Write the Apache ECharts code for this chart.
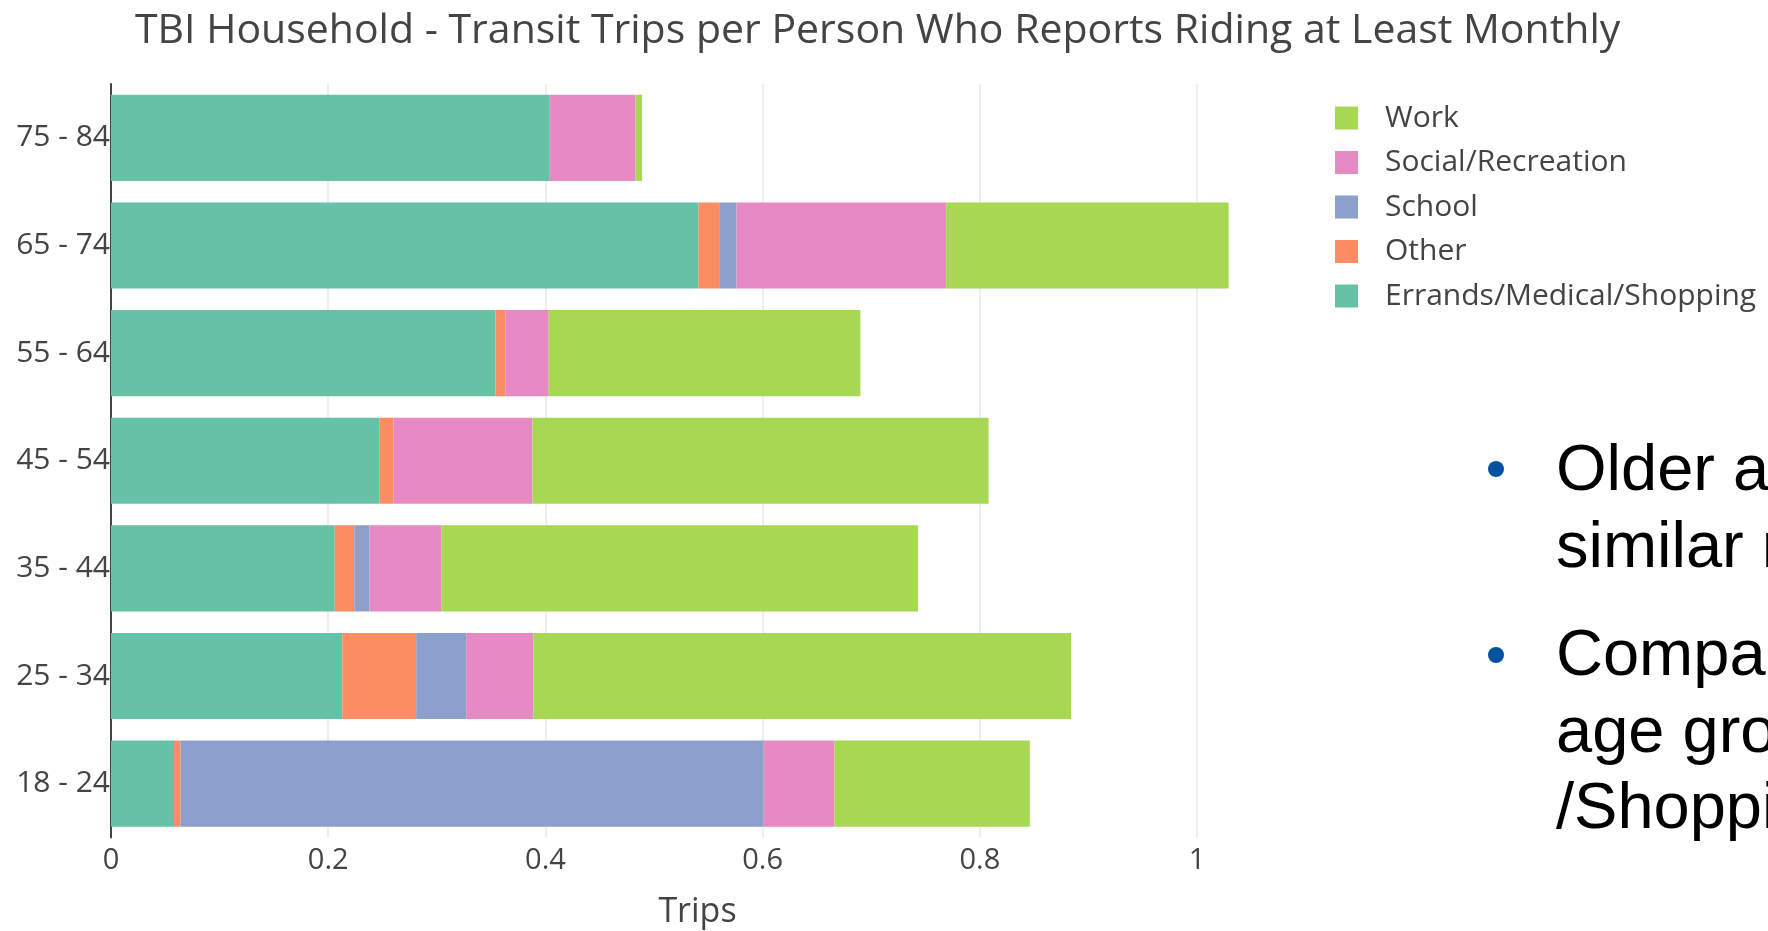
<!DOCTYPE html>
<html>
<head>
<meta charset="utf-8">
<title>TBI Household - Transit Trips</title>
<script src="https://cdn.jsdelivr.net/npm/echarts@6/dist/echarts.min.js"></script>
<style>
  html, body { margin: 0; padding: 0; background: #fff; }
  #chart { width: 1768px; height: 931px; }
</style>
</head>
<body>
<div id="chart"></div>
<script>
// age groups, bottom to top
const ageGroups = ['18 - 24', '25 - 34', '35 - 44', '45 - 54', '55 - 64', '65 - 74', '75 - 84']

// trips per person
const errands = [0.058, 0.213, 0.206, 0.247, 0.354, 0.541, 0.404]
const other = [0.006, 0.068, 0.018, 0.013, 0.009, 0.019, 0]
const school = [0.537, 0.046, 0.014, 0, 0, 0.016, 0]
const social = [0.065, 0.062, 0.066, 0.128, 0.040, 0.193, 0.079]
const work = [0.180, 0.495, 0.439, 0.420, 0.287, 0.260, 0.006]

const xTicks = [0, 0.2, 0.4, 0.6, 0.8, 1]

const mychart = echarts.init(document.getElementById('chart'))

function barSeries (name, color, data) {
  return {
    name: name,
    type: 'bar',
    stack: 'trips',
    color: color,
    barCategoryGap: '20%',
    data: data
  }
}

const slideFont = {
  fontFamily: 'Liberation Sans, Arial',
  fontSize: 65,
  fill: '#000'
}

let option = {
  animation: false,
  textStyle: {
    fontFamily: 'Open Sans'
  },
  title: {
    text: 'TBI Household - Transit Trips per Person Who Reports Riding at Least Monthly',
    left: 130,
    top: 6,
    textStyle: {
      fontFamily: 'Open Sans',
      fontWeight: 'normal',
      fontSize: 41,
      color: '#444'
    }
  },
  legend: {
    orient: 'vertical',
    left: 1335,
    top: 103,
    padding: 0,
    icon: 'rect',
    itemWidth: 23,
    itemHeight: 23,
    itemGap: 14.5,
    data: ['Work', 'Social/Recreation', 'School', 'Other', 'Errands/Medical/Shopping'],
    textStyle: {
      fontSize: 30,
      color: '#444',
      padding: [0, 0, 0, 22]
    }
  },
  grid: {
    left: 111,
    right: 484,
    top: 84,
    bottom: 93.5,
    outerBoundsMode: 'none'
  },
  xAxis: {
    type: 'value',
    min: 0,
    max: 1.08,
    interval: 0.2,
    name: 'Trips',
    nameLocation: 'middle',
    nameGap: 58,
    nameTextStyle: {
      fontSize: 34,
      color: '#444'
    },
    axisLine: { show: false },
    axisTick: { show: false },
    axisLabel: {
      fontSize: 29,
      color: '#444',
      margin: 9,
      showMaxLabel: false,
      formatter: function (v) {
        return xTicks.indexOf(Math.round(v * 10) / 10) >= 0 ? String(Math.round(v * 10) / 10) : ''
      }
    },
    splitLine: {
      show: true,
      showMinLine: false,
      showMaxLine: false,
      lineStyle: {
        color: '#eee',
        width: 2
      }
    }
  },
  yAxis: {
    type: 'category',
    data: ageGroups,
    axisLine: {
      show: true,
      lineStyle: { color: '#444', width: 2 }
    },
    axisTick: { show: false },
    axisLabel: {
      fontSize: 30,
      color: '#444',
      margin: 1,
      padding: [8, 0, 0, 0]
    },
    splitLine: { show: false }
  },
  series: [
    barSeries('Errands/Medical/Shopping', '#66c2a5', errands),
    barSeries('Other', '#fc8d62', other),
    barSeries('School', '#8da0cb', school),
    barSeries('Social/Recreation', '#e78ac3', social),
    barSeries('Work', '#a6d854', work)
  ],
  // slide text overlapping on the right edge
  graphic: [
    { type: 'circle', shape: { cx: 1496, cy: 469, r: 8 }, style: { fill: '#03529f' } },
    { type: 'circle', shape: { cx: 1496, cy: 655, r: 8 }, style: { fill: '#03529f' } },
    { type: 'text', left: 1556, top: 440, style: Object.assign({ text: 'Older adults' }, slideFont) },
    { type: 'text', left: 1556, top: 517, style: Object.assign({ text: 'similar rates' }, slideFont) },
    { type: 'text', left: 1556, top: 625, style: Object.assign({ text: 'Compared' }, slideFont) },
    { type: 'text', left: 1556, top: 702, style: Object.assign({ text: 'age groups' }, slideFont) },
    { type: 'text', left: 1556, top: 778, style: Object.assign({ text: '/Shopping' }, slideFont) }
  ]
}
mychart.setOption(option)
window.addEventListener('resize', function () {
  mychart.resize()
})
</script>
</body>
</html>
